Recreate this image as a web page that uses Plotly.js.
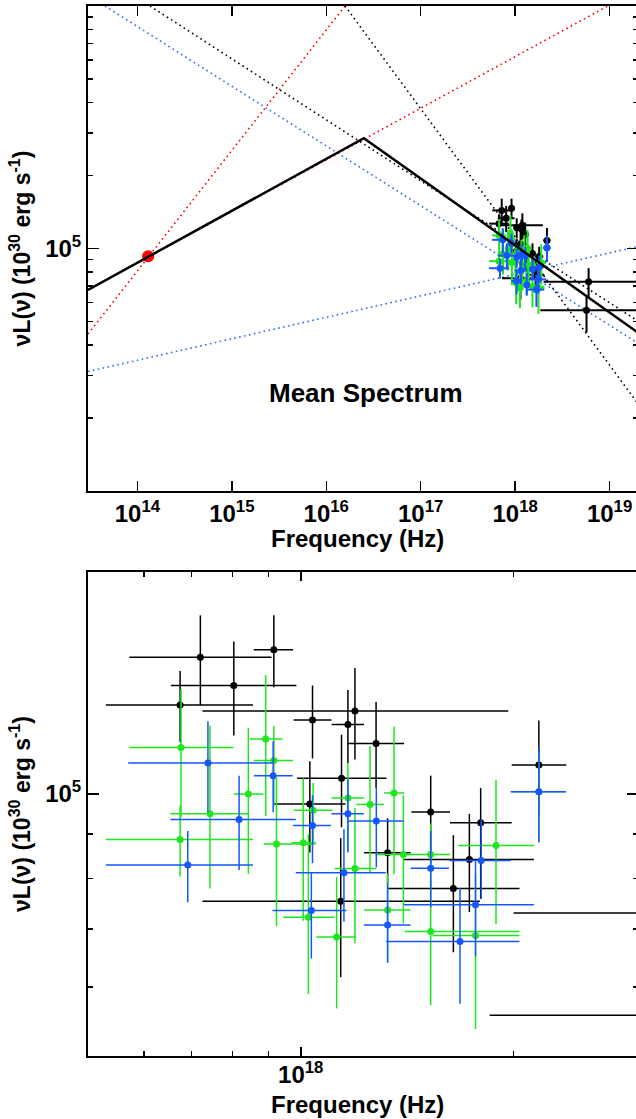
<!DOCTYPE html>
<html><head><meta charset="utf-8">
<script src="https://cdn.plot.ly/plotly-3.0.1.min.js"></script>
<style>html,body{margin:0;padding:0;overflow:hidden;background:#fff}#chart{width:638px;height:1119px}</style>
</head><body><div id="chart"></div>
<script>
// ---------- data ----------
const blackX   = [6.75e17,7.21e17,8.04e17,9.16e17,1.039e18,1.030e18,1.193e18,1.139e18,1.142e18,1.166e18,1.278e18,1.327e18,1.527e18,1.644e18,1.732e18,1.797e18,2.172e18,6.0e18,5.7e18];
const blackXlo = [5.30e17,5.72e17,6.55e17,8.58e17,9.77e17,9.14e17,7.26e17,7.26e17,9.88e17,1.106e18,1.164e18,1.229e18,1.434e18,1.326e18,1.40e18,1.626e18,1.988e18,2.0e18,1.85e18];
const blackXhi = [8.56e17,9.09e17,9.86e17,9.75e17,1.105e18,1.157e18,1.966e18,1.792e18,1.322e18,1.229e18,1.40e18,1.43e18,1.626e18,2.039e18,2.137e18,1.988e18,2.375e18,2.2e19,2.2e19];
const blackY   = [1.266e5,1.436e5,1.333e5,1.465e5,1.217e5,9.74e4,1.246e5,7.53e4,1.043e5,1.202e5,1.143e5,8.56e4,9.54e4,7.79e4,8.41e4,9.27e4,1.080e5,7.3e4,5.57e4];
const blackYlo = [1.147e5,1.265e5,1.168e5,1.327e5,1.099e5,8.57e4,1.096e5,6.16e4,9.16e4,1.085e5,1.016e5,7.9e4,8.33e4,6.58e4,7.32e4,7.58e4,9.46e4,6.3e4,4.5e4];
const blackYhi = [1.385e5,1.605e5,1.498e5,1.605e5,1.333e5,1.091e5,1.396e5,8.9e4,1.17e5,1.317e5,1.276e5,9.38e4,1.05e5,8.97e4,9.49e4,1.016e5,1.215e5,8.3e4,6.4e4];

const greenX   = [6.77e17,6.75e17,7.44e17,8.43e17,8.92e17,9.16e17,9.24e17,1.008e18,1.025e18,1.041e18,1.124e18,1.166e18,1.193e18,1.253e18,1.355e18,1.397e18,1.327e18,1.527e18,1.527e18,1.767e18,1.889e18,2.172e18];
const greenXlo = [5.72e17,5.30e17,6.54e17,8.04e17,8.47e17,8.58e17,8.87e17,9.70e17,9.44e17,9.77e17,1.052e18,1.106e18,1.117e18,1.198e18,1.312e18,1.276e18,1.229e18,1.403e18,1.403e18,1.536e18,1.67e18,1.988e18];
const greenXhi = [8.03e17,8.56e17,8.45e17,8.85e17,9.42e17,9.75e17,1.05e18,1.05e18,1.115e18,1.108e18,1.198e18,1.229e18,1.279e18,1.312e18,1.40e18,1.438e18,1.43e18,1.626e18,2.039e18,2.039e18,2.137e18,2.375e18];
const greenY   = [1.131e5,8.87e4,9.49e4,1.0e5,1.157e5,1.093e5,8.76e4,8.79e4,7.22e4,9.58e4,6.85e4,9.9e4,8.21e4,9.73e4,1.003e5,8.52e4,7.36e4,8.52e4,6.95e4,6.88e4,8.73e4,1.006e5];
const greenYlo = [9.4e4,8.04e4,7.79e4,8.1e4,9.44e4,9.69e4,7.05e4,7.15e4,5.89e4,8.8e4,5.67e4,8.59e4,6.74e4,8.12e4,8.09e4,7.1e4,6.4e4,7.8e4,5.72e4,5.37e4,7.09e4,8.82e4];
const greenYhi = [1.321e5,9.71e4,1.199e5,1.191e5,1.37e5,1.197e5,1.045e5,1.043e5,8.99e4,1.03e5,8.03e4,1.085e5,9.64e4,1.136e5,1.196e5,9.97e4,8.1e4,9.25e4,7.95e4,8.1e4,1.038e5,1.116e5];

const blueX   = [7.39e17,6.92e17,8.18e17,9.14e17,1.039e18,1.035e18,1.151e18,1.166e18,1.279e18,1.327e18,1.527e18,1.68e18,1.767e18,1.80e18,2.172e18];
const blueXlo = [5.70e17,5.30e17,6.54e17,8.58e17,9.75e17,9.12e17,9.84e17,1.105e18,1.164e18,1.229e18,1.43e18,1.321e18,1.40e18,1.624e18,1.981e18];
const blueXhi = [9.12e17,8.56e17,9.84e17,9.74e17,1.103e18,1.16e18,1.319e18,1.228e18,1.398e18,1.43e18,1.62e18,2.039e18,2.137e18,1.981e18,2.37e18];
const blueY   = [1.086e5,8.29e4,9.35e4,1.05e5,9.2e4,7.35e4,8.12e4,9.49e4,9.31e4,7.07e4,8.22e4,6.77e4,7.46e4,8.39e4,1.006e5];
const blueYlo = [9.53e4,7.51e4,8.18e4,9.53e4,8.33e4,6.47e4,7.14e4,8.57e4,8.24e4,6.4e4,7.41e4,5.74e4,6.51e4,7.58e4,8.8e4];
const blueYhi = [1.213e5,9.07e4,1.05e5,1.15e5,9.97e4,8.12e4,9.11e4,1.04e5,1.016e5,7.91e4,9.07e4,7.8e4,8.37e4,9.35e4,1.132e5];

// optical point
const optX = [1.3e14];
const optY = [9.3e4];

// model lines (end points)
const fitX = [3e13, 2.5e16, 2e19];
const fitY = [6.75e4, 2.85e5, 4.5e4];
const redSteepX = [3e13, 1.58e16];   const redSteepY = [4.44e4, 1e6];
const redShallowX = [3e13, 9.6e18];  const redShallowY = [6.75e4, 1e6];
const blackDotAX = [1.36e14, 2e19];  const blackDotAY = [1e6, 5.02e4];
const blackDotBX = [1.58e16, 2e19];  const blackDotBY = [1e6, 2.29e4];
const blueDotAX = [4.54e13, 2e19];   const blueDotAY = [1e6, 4.07e4];
const blueDotBX = [3e13, 2e19];      const blueDotBY = [3.11e4, 1.02e5];

const topXTicks = [1e14,1e15,1e16,1e17,1e18,1e19];
const topXText = ['14','15','16','17','18','19'].map(e => '<b>10<sup>' + e + '</sup></b>');
const topYMinor = [2e4,3e4,4e4,5e4,6e4,7e4,8e4,9e4,2e5,3e5,4e5,5e5,6e5,7e5,8e5,9e5];
const botXMinor = [6e17,7e17,8e17,9e17,2e18];
const botYMinor = [6e4,7e4,8e4,9e4];
const xTitle = 'Frequency (Hz)';
const yTitle = '\u03bdL(\u03bd) (10<sup>30</sup> erg s<sup>-1</sup>)';
const panelLabel = 'Mean Spectrum';

// ---------- build ----------
const GREEN = '#1ee61e', BLUE = '#1656ff', BLACK = '#000000';
const DOT = '1.6px,3.4px';
function dataTrace(X, Xlo, Xhi, Y, Ylo, Yhi, color, xa, ya, size, th) {
  return {
    type: 'scatter', mode: 'markers', x: X, y: Y, xaxis: xa, yaxis: ya,
    marker: {color: color, size: size},
    error_x: {type: 'data', symmetric: false, array: X.map((v, i) => Xhi[i] - v), arrayminus: X.map((v, i) => v - Xlo[i]), color: color, thickness: th, width: 0},
    error_y: {type: 'data', symmetric: false, array: Y.map((v, i) => Yhi[i] - v), arrayminus: Y.map((v, i) => v - Ylo[i]), color: color, thickness: th, width: 0},
    hoverinfo: 'skip'
  };
}
function line(X, Y, color, dash, w) {
  return {type: 'scatter', mode: 'lines', x: X, y: Y, xaxis: 'x', yaxis: 'y', line: {color: color, dash: dash, width: w}, hoverinfo: 'skip'};
}

const traces = [
  line(redSteepX, redSteepY, '#ff0000', DOT, 1.6),
  line(redShallowX, redShallowY, '#ff0000', DOT, 1.6),
  line(blackDotAX, blackDotAY, BLACK, DOT, 1.6),
  line(blackDotBX, blackDotBY, BLACK, DOT, 1.6),
  line(blueDotAX, blueDotAY, '#2a6aff', DOT, 1.6),
  line(blueDotBX, blueDotBY, '#2a6aff', DOT, 1.6),
  {type: 'scatter', mode: 'markers', x: optX, y: optY, xaxis: 'x', yaxis: 'y', marker: {color: '#ff0000', size: 12}, hoverinfo: 'skip'},
  dataTrace(blackX, blackXlo, blackXhi, blackY, blackYlo, blackYhi, BLACK, 'x', 'y', 7, 2),
  dataTrace(greenX, greenXlo, greenXhi, greenY, greenYlo, greenYhi, GREEN, 'x', 'y', 7, 2),
  dataTrace(blueX, blueXlo, blueXhi, blueY, blueYlo, blueYhi, BLUE, 'x', 'y', 7, 2),
  line(fitX, fitY, BLACK, 'solid', 2.5),
  dataTrace(blackX, blackXlo, blackXhi, blackY, blackYlo, blackYhi, BLACK, 'x2', 'y2', 7, 1.5),
  dataTrace(greenX, greenXlo, greenXhi, greenY, greenYlo, greenYhi, GREEN, 'x2', 'y2', 7, 1.5),
  dataTrace(blueX, blueXlo, blueXhi, blueY, blueYlo, blueYhi, BLUE, 'x2', 'y2', 7, 1.5)
];

const axBase = {type: 'log', showgrid: false, zeroline: false, showline: true, linecolor: 'black', linewidth: 2,
  ticks: 'inside', tickcolor: 'black', tickwidth: 1.5, mirror: 'ticks', tickmode: 'array', tickfont: {size: 24, color: 'black'}};
const yTitleFont = {size: 23, color: 'black'};

const layout = {
  width: 638, height: 1119, margin: {l: 88, r: 0, t: 6, b: 63},
  paper_bgcolor: 'white', plot_bgcolor: 'white', showlegend: false,
  font: {family: '"Liberation Sans", Arial, Helvetica, sans-serif', color: 'black'},
  xaxis: Object.assign({}, axBase, {anchor: 'y', domain: [0, 1], range: [Math.log10(3e13), Math.log10(2e19)],
    tickvals: topXTicks, ticktext: topXText, ticklen: 10}),
  yaxis: Object.assign({}, axBase, {anchor: 'x', domain: [0.5381, 1], range: [4, 6],
    tickvals: [1e5], ticktext: ['<b>10<sup>5</sup></b>'], ticklen: 11,
    minor: {tickmode: 'array', tickvals: topYMinor, ticks: 'inside', ticklen: 5, tickwidth: 1.5, tickcolor: 'black'},
    title: {text: '<b>' + yTitle + '</b>', font: yTitleFont, standoff: 8}}),
  xaxis2: Object.assign({}, axBase, {anchor: 'y2', domain: [0, 1], range: [Math.log10(5e17), Math.log10(3e18)],
    tickvals: [1e18], ticktext: ['<b>10<sup>18</sup></b>'], ticklen: 9, ticklabelstandoff: -4,
    minor: {tickmode: 'array', tickvals: botXMinor, ticks: 'inside', ticklen: 5, tickwidth: 1.5, tickcolor: 'black'}}),
  yaxis2: Object.assign({}, axBase, {anchor: 'x2', domain: [0, 0.46095], range: [Math.log10(5e4), Math.log10(1.8e5)],
    tickvals: [1e5], ticktext: ['<b>10<sup>5</sup></b>'], ticklen: 11,
    minor: {tickmode: 'array', tickvals: botYMinor, ticks: 'inside', ticklen: 5, tickwidth: 1.5, tickcolor: 'black'},
    title: {text: '<b>' + yTitle + '</b>', font: yTitleFont, standoff: 8}}),
  annotations: [
    {xref: 'x', yref: 'y', x: 16.42, y: 4.404, text: '<b>' + panelLabel + '</b>', showarrow: false, font: {size: 26, color: 'black'}},
    {xref: 'paper', yref: 'paper', x: 0.49, y: 0.4933, yanchor: 'middle', text: '<b>' + xTitle + '</b>', showarrow: false, font: {size: 24, color: 'black'}},
    {xref: 'paper', yref: 'paper', x: 0.49, y: -0.0465, yanchor: 'middle', text: '<b>' + xTitle + '</b>', showarrow: false, font: {size: 24, color: 'black'}}
  ]
};

Plotly.newPlot('chart', traces, layout, {staticPlot: true, displayModeBar: false});
</script></body></html>
